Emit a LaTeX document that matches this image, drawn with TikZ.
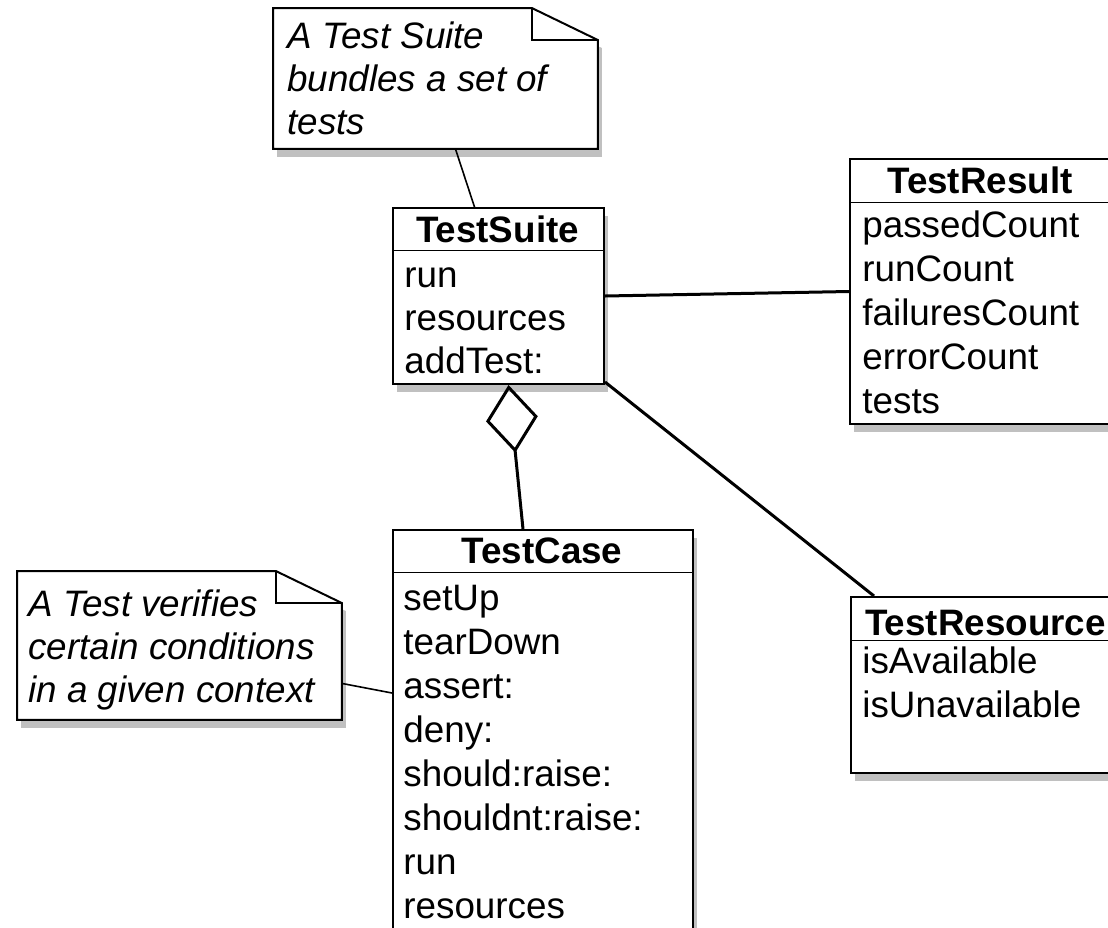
\documentclass[tikz,border=0pt]{standalone}
\usepackage{fontspec}
\setmainfont{Liberation Sans}
\usetikzlibrary{arrows.meta,shadows}

\newcommand{\umlsize}{\fontsize{18.4pt}{22pt}\selectfont}

\tikzset{
  classbox/.style={draw, fill=white, line width=1pt, anchor=north west, inner sep=0pt,
    drop shadow={shadow xshift=2pt, shadow yshift=-4pt, fill=black!45, opacity=.55}},
  classname/.style={anchor=base, inner sep=0pt, font=\umlsize\bfseries},
  member/.style={anchor=base west, inner sep=0pt, font=\umlsize},
  notebox/.style={anchor=north west, inner sep=0pt},
  noteline/.style={anchor=base west, inner sep=0pt, font=\umlsize\itshape},
  link/.style={line width=1.5pt},
  notelink/.style={line width=.8pt}
}

% outline of a note with a folded corner, #1 = node, #2 = shift
\newcommand{\notepath}[2]{([shift={#2}]#1.north west) -- ([shift={#2},xshift=-33pt]#1.north east)
  -- ([shift={#2},yshift=-16pt]#1.north east) -- ([shift={#2}]#1.south east)
  -- ([shift={#2}]#1.south west) -- cycle}
\newcommand{\drawnote}[1]{%
  \fill[black!45, opacity=.55] \notepath{#1}{(2pt,-4pt)};
  \draw[fill=white, line width=1pt] \notepath{#1}{(0pt,0pt)};
  \draw[line width=.8pt] ([xshift=-33pt]#1.north east) |- ([yshift=-16pt]#1.north east);
}

\begin{document}
\begin{tikzpicture}[x=0.5pt, y=-0.5pt]
  \useasboundingbox (0,0) rectangle (1108,927);
  \clip (0,0) rectangle (1108,927);

  % TestSuite
  \node (suite) at (392,207) [classbox, minimum width=105.5pt, minimum height=88pt] {};
  \node (suite-name) at (497.5,242) [classname] {TestSuite};
  \draw (392,250) -- (603,250);
  \foreach \m [count=\i] in {run,resources,addTest:}
    \node (suite-\i) at (404,{244+43*\i}) [member] {\m};

  % TestResult
  \node (result) at (849,158) [classbox, minimum width=131pt, minimum height=132.5pt] {};
  \node (result-name) at (980,193) [classname] {TestResult};
  \draw (849,202) -- (1111,202);
  \foreach \m [count=\i] in {passedCount,runCount,failuresCount,errorCount,tests}
    \node (result-\i) at (862,{193+44*\i}) [member] {\m};

  % TestCase
  \node (case) at (392,529) [classbox, minimum width=150pt, minimum height=205pt] {};
  \node (case-name) at (542,563) [classname] {TestCase};
  \draw (392,572) -- (692,572);
  \foreach \m [count=\i] in {setUp,tearDown,assert:,deny:,should:raise:,shouldnt:raise:,run,resources}
    \node (case-\i) at (403,{566+44*\i}) [member] {\m};

  % TestResource
  \node (resource) at (850,596) [classbox, minimum width=135.5pt, minimum height=88pt] {};
  \node (resource-name) at (985.5,635) [classname] {TestResource};
  \draw (850,640) -- (1121,640);
  \foreach \m [count=\i] in {isAvailable,isUnavailable}
    \node (resource-\i) at (862,{629+44*\i}) [member] {\m};

  % notes
  \node (suite-note) at (273,8) [notebox, minimum width=162pt, minimum height=70pt] {};
  \drawnote{suite-note}
  \foreach \l [count=\i] in {A Test Suite,bundles a set of,tests}
    \node (suite-note-\i) at (287,{5+43*\i}) [noteline] {\l};

  \node (case-note) at (17,571) [notebox, minimum width=162pt, minimum height=74pt] {};
  \drawnote{case-note}
  \foreach \l [count=\i] in {A Test verifies,certain conditions,in a given context}
    \node (case-note-\i) at (28,{573+43*\i}) [noteline] {\l};

  % connectors
  \draw[notelink] ([xshift=10pt]suite-note.south) -- ([xshift=-12pt]suite.north);
  \draw[notelink] ([yshift=-19pt]case-note.east) -- ([yshift=-82pt]case.north west);
  \draw[link] (suite.east) -- (result.west);
  \draw[link] ([yshift=1.5pt]suite.south east) -- ([xshift=12pt]resource.north west);
  \draw[link, {Diamond[open, length=34pt, width=26pt]}-] ([xshift=5pt]suite.south) -- ([xshift=-10pt]case.north);
\end{tikzpicture}
\end{document}
